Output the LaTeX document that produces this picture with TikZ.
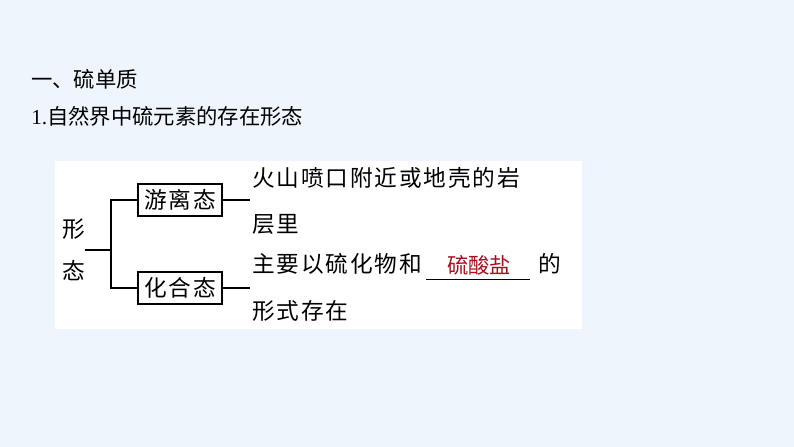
\documentclass[tikz,border=0pt]{standalone}
\usepackage{fontspec}
\setmainfont{Liberation Serif}
\newfontfamily\cjk{Noto Sans CJK SC}
\newfontfamily\cjkwide{Noto Sans CJK SC}[LetterSpace=8]
\definecolor{pagebg}{HTML}{EEF5FD}
\definecolor{answerred}{HTML}{A3101E}
\tikzset{
  heading/.style={anchor=west,inner sep=0pt,font=\cjk\fontsize{16}{16}\selectfont},
  body/.style={anchor=west,inner sep=0pt,font=\cjkwide\fontsize{17}{17}\selectfont},
  statebox/.style={draw,line width=0.8pt,inner sep=0pt,minimum width=63pt,minimum height=24pt,
                   font=\cjkwide\fontsize{17}{17}\selectfont},
  branch/.style={line width=0.8pt}
}
\begin{document}
\begin{tikzpicture}[x=0.75pt,y=-0.75pt]
    \useasboundingbox (0,0) rectangle (794,447);
    \fill[pagebg] (0,0) rectangle (794,447); % Hintergrund
    \fill[white] (55,161) rectangle (582,329); % Kasten

    \node[heading] (title) at (31,79) {一、硫单质};
    \node[heading] (subtitle) at (31,116) {{\rmfamily 1.}自然界中硫元素的存在形态};

    \node[body,align=center] (form) at (62,250) {形\\[14.5pt]态};
    \coordinate (fork) at (111,250);
    \node[statebox] (free) at (180,200) {游离态};
    \node[statebox] (comp) at (180,288) {化合态};
    \coordinate (freeend) at (250,200);
    \coordinate (compend) at (250,288);

    \draw[branch] (form.east) -- (fork);
    \draw[branch] (free.west) -| (fork) |- (comp.west); % Verzweigung
    \draw[branch] (free.east) -- (freeend);
    \draw[branch] (comp.east) -- (compend);

    \node[body] (freeA) at (252,178) {火山喷口附近或地壳的岩};
    \node[body] (freeB) at (252,224) {层里};
    \node[body] (compA) at (252,264) {主要以硫化物和};
    \node[body] (compB) at (538,264) {的};
    \node[body] (compC) at (252,311) {形式存在};

    \coordinate (blankL) at (426,279);
    \coordinate (blankR) at (530,279);
    \draw[line width=0.6pt] (blankL) -- (blankR); % Luecke
    \node[heading,anchor=center,text=answerred] (salt) at (479,265) {硫酸盐};
\end{tikzpicture}
\end{document}
